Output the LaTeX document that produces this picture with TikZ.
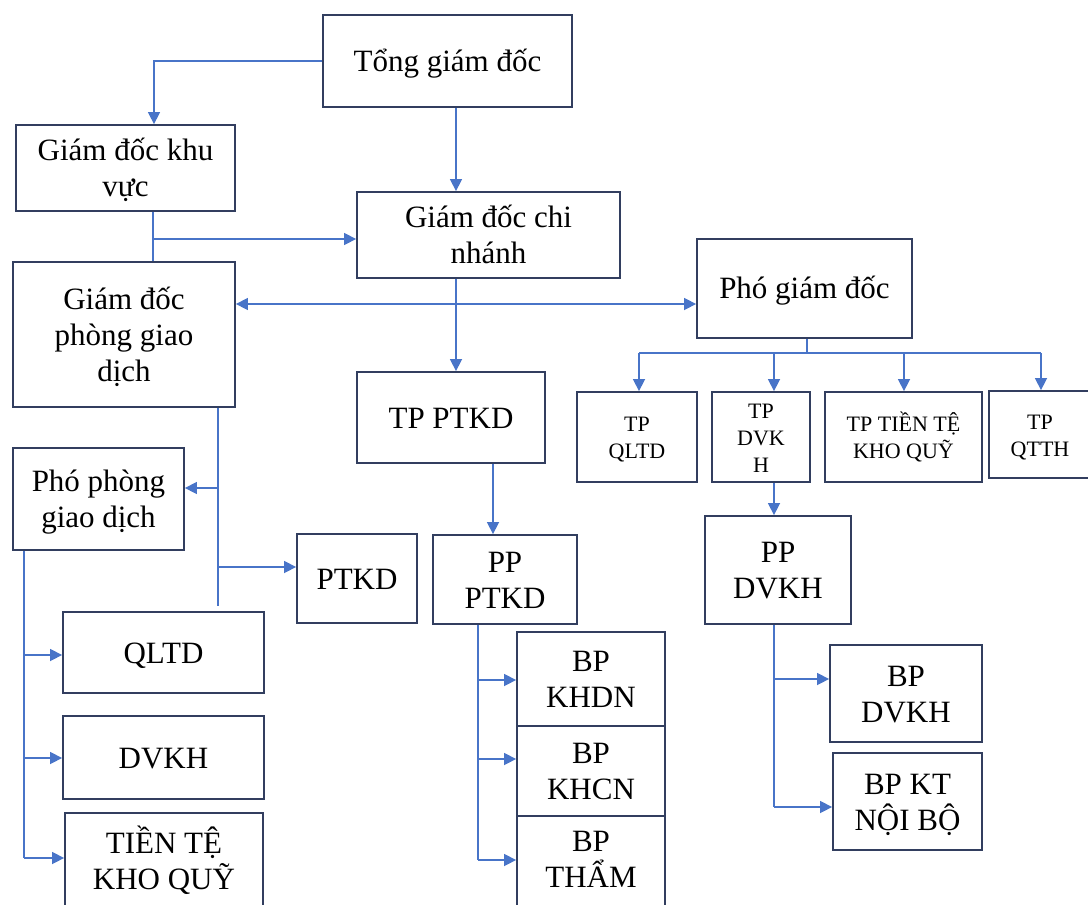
\documentclass[tikz,border=0pt]{standalone}
\usepackage{fontspec}
\setmainfont{Liberation Serif}
\usetikzlibrary{arrows.meta}
\definecolor{linkblue}{RGB}{72,116,200}
\definecolor{boxline}{RGB}{50,62,95}
% line struts: fixed ascent/descent so every box places its lines alike
\newcommand\lsb{\rule[-6pt]{0pt}{33pt}}
\newcommand\lss{\rule[-4pt]{0pt}{24pt}}
\begin{document}
\begin{tikzpicture}[x=1pt,y=-1pt,
  box/.style={draw=boxline, line width=1.8pt, inner sep=0pt, align=center,
    font=\fontsize{31}{36}\selectfont},
  smallbox/.style={box, font=\fontsize{22}{27}\selectfont},
  link/.style={draw=linkblue, line width=1.5pt},
  arr/.style={link, -{Triangle[length=12pt,width=12pt]}},
  dbl/.style={link, {Triangle[length=12pt,width=12pt]}-{Triangle[length=12pt,width=12pt]}},
]
\useasboundingbox (0,0) rectangle (1088,905);

% --- boxes (centre, width, height in px) ---
\node[box, minimum width=249pt, minimum height=92pt] (tgd) at (447.5,61) {\lsb Tổng giám đốc};
\node[box, minimum width=219pt, minimum height=86pt] (gdkv) at (125.5,168) {\lsb Giám đốc khu\\vực\lsb};
\node[box, minimum width=263pt, minimum height=86pt] (gdcn) at (488.5,235) {\lsb Giám đốc chi\\nhánh\lsb};
\node[box, minimum width=222pt, minimum height=145pt] (gdpgd) at (124,334.5) {\lsb Giám đốc\\phòng giao\\dịch\lsb};
\node[box, minimum width=215pt, minimum height=99pt] (pgd) at (804.5,288.5) {\lsb Phó giám đốc};

\node[smallbox, minimum width=120pt, minimum height=90pt] (tpqltd) at (637,437) {\lss TP\\QLTD\lss};
\node[smallbox, minimum width=98pt, minimum height=90pt] (tpdvkh) at (761,437) {\lss TP\\DVK\\H\lss};
\node[smallbox, minimum width=157pt, minimum height=90pt] (tptt) at (903.5,437) {\lss TP TIỀN TỆ\\KHO QUỸ\lss};
\node[smallbox, minimum width=102pt, minimum height=87pt] (tpqtth) at (1040,434.5) {\lss TP\\QTTH\lss};

\node[box, minimum width=188pt, minimum height=91pt] (tpptkd) at (451,417.5) {\lsb TP PTKD};
\node[box, minimum width=171pt, minimum height=102pt] (ppgd) at (98.5,499) {\lsb Phó phòng\\giao dịch\lsb};
\node[box, minimum width=120pt, minimum height=89pt] (ptkd) at (357,578.5) {\lsb PTKD};
\node[box, minimum width=144pt, minimum height=89pt] (ppptkd) at (505,579.5) {\lsb PP\\PTKD\lsb};
\node[box, minimum width=146pt, minimum height=108pt] (ppdvkh) at (778,570) {\lsb PP\\DVKH\lsb};

\node[box, minimum width=201pt, minimum height=81pt] (qltd) at (163.5,652.5) {\lsb QLTD};
\node[box, minimum width=201pt, minimum height=83pt] (dvkh) at (163.5,757.5) {\lsb DVKH};
\node[box, minimum width=198pt, minimum height=96pt] (ttkq) at (164,861) {\lsb TIỀN TỆ\\KHO QUỸ\lsb};

\node[box, minimum width=148pt, minimum height=94pt] (bpkhdn) at (591,679) {\lsb BP\\KHDN\lsb};
\node[box, minimum width=148pt, minimum height=90pt] (bpkhcn) at (591,771) {\lsb BP\\KHCN\lsb};
\node[box, minimum width=148pt, minimum height=94pt] (bptham) at (591,863) {\lsb BP\\THẨM\rule[-15pt]{0pt}{15pt}};
\node[box, minimum width=152pt, minimum height=97pt] (bpdvkh) at (906,693.5) {\lsb BP\\DVKH\lsb};
\node[box, minimum width=149pt, minimum height=97pt] (bpktnb) at (907.5,801.5) {\lsb BP KT\\NỘI BỘ\lsb};

% --- top levels ---
\draw[arr] (tgd.west) -| (154,0 |- gdkv.north);
\draw[arr] (456,0 |- tgd.south) -- (456,0 |- gdcn.north);
\draw[link] (153,0 |- gdkv.south) -- (153,0 |- gdpgd.north);
\draw[arr] (153,239) -- (gdcn.west |- 0,239);
\draw[dbl] (gdpgd.east |- 0,304) -- (pgd.west |- 0,304);
\draw[arr] (456,0 |- gdcn.south) -- (456,0 |- tpptkd.north);

% --- deputy director and department heads ---
\coordinate (bus) at (807,353);
\draw[link] (807,0 |- pgd.south) -- (bus);
\draw[link] (639,353) -- (1041,353);
\draw[arr] (639,353) -- (639,0 |- tpqltd.north);
\draw[arr] (774,353) -- (774,0 |- tpdvkh.north);
\draw[arr] (904,353) -- (904,0 |- tptt.north);
\draw[arr] (1041,353) -- (1041,0 |- tpqtth.north);

% --- customer service branch ---
\draw[arr] (774,0 |- tpdvkh.south) -- (774,0 |- ppdvkh.north);
\draw[link] (774,0 |- ppdvkh.south) -- (774,807);
\draw[arr] (774,679) -- (bpdvkh.west |- 0,679);
\draw[arr] (774,807) -- (bpktnb.west |- 0,807);

% --- business development branch ---
\draw[arr] (493,0 |- tpptkd.south) -- (493,0 |- ppptkd.north);
\draw[link] (478,0 |- ppptkd.south) -- (478,860);
\draw[arr] (478,680) -- (bpkhdn.west |- 0,680);
\draw[arr] (478,759) -- (bpkhcn.west |- 0,759);
\draw[arr] (478,860) -- (bptham.west |- 0,860);

% --- transaction office ---
\draw[link] (218,0 |- gdpgd.south) -- (218,606);
\draw[arr] (218,488) -- (ppgd.east |- 0,488);
\draw[arr] (218,567) -- (ptkd.west |- 0,567);
\draw[link] (24,0 |- ppgd.south) -- (24,858);
\draw[arr] (24,655) -- (qltd.west |- 0,655);
\draw[arr] (24,758) -- (dvkh.west |- 0,758);
\draw[arr] (24,858) -- (ttkq.west |- 0,858);
\end{tikzpicture}
\end{document}
